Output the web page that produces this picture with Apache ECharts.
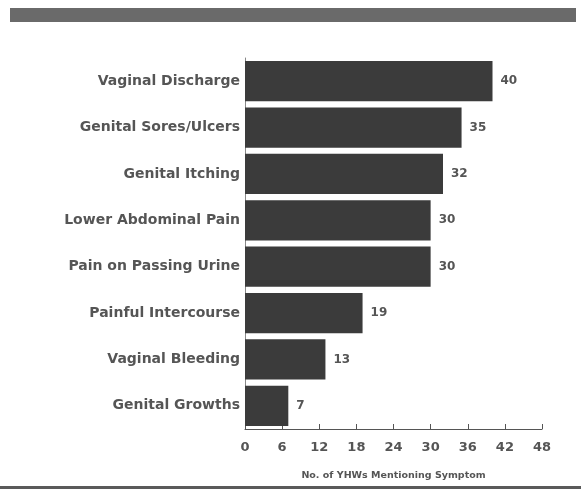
<!DOCTYPE html>
<html>
<head>
<meta charset="utf-8">
<script src="https://cdn.jsdelivr.net/npm/echarts@6/dist/echarts.min.js"></script>
<style>
  html, body { margin: 0; padding: 0; background: #fff; }
  #chart { width: 581px; height: 492px; }
</style>
</head>
<body>
<div id="chart"></div>
<script>
// symptoms, top to bottom
var symptoms = ['Vaginal Discharge', 'Genital Sores/Ulcers', 'Genital Itching', 'Lower Abdominal Pain',
                'Pain on Passing Urine', 'Painful Intercourse', 'Vaginal Bleeding', 'Genital Growths'];
var counts = [40, 35, 32, 30, 30, 19, 13, 7];
var xTicks = [0, 6, 12, 18, 24, 30, 36, 42, 48];
var xTitle = 'No. of YHWs Mentioning Symptom';

var chart = echarts.init(document.getElementById('chart'));
chart.setOption({
  backgroundColor: '#fff',
  animation: false,
  textStyle: { fontFamily: 'DejaVu Sans, sans-serif' },
  graphic: [
    // dark band across the top (scanned page header)
    { type: 'rect', left: 10, top: 8, shape: { width: 566, height: 14 }, style: { fill: '#6a6a6a' } },
    // rule at the bottom
    { type: 'rect', left: 0, top: 486, shape: { width: 581, height: 3 }, style: { fill: '#5a5a5a' } }
  ],
  grid: { left: 245, right: 39, top: 58, bottom: 63 },
  xAxis: {
    type: 'value',
    min: 0, max: 48, interval: 6,
    name: xTitle,
    nameLocation: 'middle',
    nameGap: 42,
    nameTextStyle: { fontSize: 9.5, fontWeight: 'bold', color: '#555' },
    axisLine: { show: true, lineStyle: { color: '#555', width: 1 } },
    axisTick: { show: true, inside: true, length: 5, lineStyle: { color: '#555' } },
    axisLabel: { fontSize: 13, fontWeight: 'bold', color: '#555', margin: 12,
                 formatter: function (v) { return xTicks.indexOf(v) >= 0 ? v : ''; } },
    splitLine: { show: false }
  },
  yAxis: {
    type: 'category',
    inverse: true,
    data: symptoms,
    axisLine: { show: true, lineStyle: { color: '#888' } },
    axisTick: { show: false },
    axisLabel: { fontSize: 14, fontWeight: 'bold', color: '#555', margin: 5 }
  },
  series: [{
    type: 'bar',
    data: counts,
    barCategoryGap: '13%',
    itemStyle: { color: '#3b3b3b' },
    label: { show: true, position: 'right', distance: 8, fontSize: 12, fontWeight: 'bold', color: '#555' }
  }]
});
</script>
</body>
</html>
